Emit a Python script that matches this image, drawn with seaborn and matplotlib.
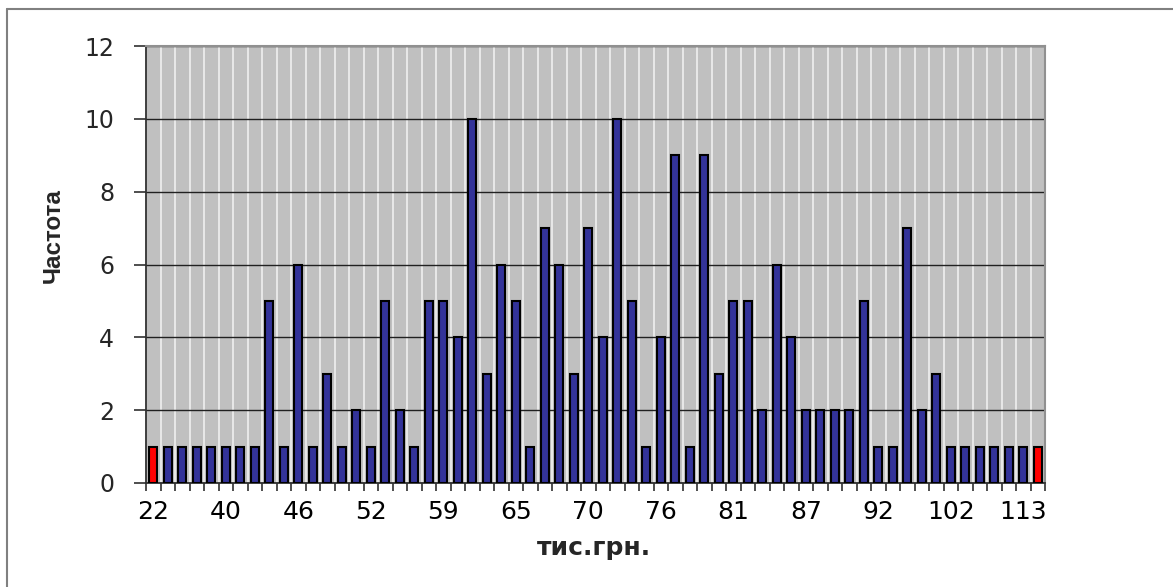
import matplotlib
matplotlib.use("Agg")
import matplotlib.pyplot as plt
from matplotlib.lines import Line2D
import seaborn as sns
import pandas as pd

# Frequency of each income bin (thousand UAH), left to right
frequencies = [
    1, 1, 1, 1, 1, 1, 1, 1,
    5, 1, 6, 1, 3, 1, 2, 1, 5, 2, 1, 5, 5,
    4, 10, 3, 6, 5, 1, 7, 6, 3, 7, 4, 10, 5, 1, 4, 9, 1, 9, 3, 5, 5, 2,
    6, 4, 2, 2, 2, 2, 5, 1, 1, 7, 2, 3, 1, 1, 1, 1, 1, 1, 1,
]
# Labels shown under every fifth bin
tick_labels = ["22", "40", "46", "52", "59", "65", "70", "76", "81", "87", "92", "102", "113"]
label_step = 5

bar_blue = "#333399"
bar_red = "#FF0000"

n = len(frequencies)
bins = [str(i) for i in range(n)]
df = pd.DataFrame({"bin": bins, "freq": frequencies})
# extreme bins are highlighted
palette = {b: (bar_red if i in (0, n - 1) else bar_blue) for i, b in enumerate(bins)}

sns.set_style("white")
plt.rcParams["font.family"] = ["DejaVu Sans"]

W, H = 1173, 587
fig = plt.figure(figsize=(W / 100, H / 100), dpi=100)
ax = fig.add_axes([146 / W, 1 - 483 / H, (1045 - 146) / W, (483 - 46) / H])
ax.set_facecolor("#C0C0C0")

sns.barplot(data=df, x="bin", y="freq", hue="bin", palette=palette, order=bins,
            legend=False, width=0.55, edgecolor="black", linewidth=1.5,
            saturation=1, ax=ax, zorder=3)

ax.set_xlim(-0.5, n - 0.5)
ax.set_ylim(0, 12)
ax.set_yticks(range(0, 13, 2))
ax.set_xticks(range(0, n, label_step))
ax.set_xticklabels(tick_labels)
ax.set_xticks([i - 0.5 for i in range(n + 1)], minor=True)

# white separators between bins, dark horizontal gridlines
ax.grid(which="minor", axis="x", color="#F4F4F4", linewidth=1.1, zorder=1)
ax.grid(which="major", axis="y", color="#202020", linewidth=1.0, zorder=2)
ax.grid(which="major", axis="x", visible=False)
ax.set_axisbelow(True)

ax.tick_params(axis="x", which="major", length=0, pad=12, labelsize=18, colors="black")
ax.tick_params(axis="x", which="minor", length=6, width=1.2, color="#303030", direction="out", bottom=True)
ax.tick_params(axis="y", which="major", length=9, width=1.2, pad=14, labelsize=17,
               color="#303030", left=True, direction="out")

for side in ("top", "right"):
    ax.spines[side].set_color("#909090")
    ax.spines[side].set_linewidth(1.5)
for side in ("left", "bottom"):
    ax.spines[side].set_color("#303030")
    ax.spines[side].set_linewidth(1.3)

ax.set_xlabel("")
ax.set_ylabel("")

fig.text(53 / W, 1 - 236 / H, "Частота", rotation=90, ha="center", va="center",
         fontsize=17.5, fontweight="bold", family=["Liberation Sans", "DejaVu Sans"])
fig.text(594 / W, 1 - 548 / H, "тис.грн.", ha="center", va="center",
         fontsize=18, fontweight="bold")

# chart frame
fig.add_artist(Line2D([7 / W, 7 / W], [0, 1 - 9 / H], transform=fig.transFigure,
                      color="#808080", linewidth=1.5))
fig.add_artist(Line2D([7 / W, 1], [1 - 9 / H, 1 - 9 / H], transform=fig.transFigure,
                      color="#808080", linewidth=1.5))

fig.savefig("out.png", dpi=100, facecolor="white")
